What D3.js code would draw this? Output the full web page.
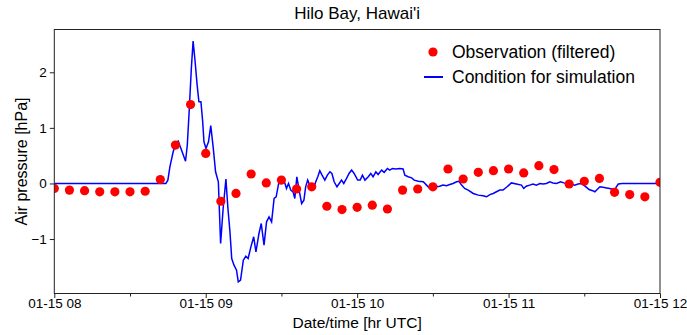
<!DOCTYPE html>
<html>
<head>
<meta charset="utf-8">
<script src="https://cdn.jsdelivr.net/npm/d3@7"></script>
<style>
  body { margin: 0; background: #fff; }
  text { font-family: "Liberation Sans", Arial, sans-serif; fill: #000; }
  .axis path, .axis line { stroke: #222; }
</style>
</head>
<body>
<script>
var margin = {top: 29.5, right: 27, bottom: 41.5, left: 54.3};
var width = 687 - margin.left - margin.right;
var height = 335 - margin.top - margin.bottom;

// observations every 6 minutes from 08:00 UTC
var obsStep = 6;
var obsValues = [-0.09, -0.12, -0.13, -0.15, -0.15, -0.15, -0.14, 0.07, 0.69, 1.42,
  0.54, -0.32, -0.18, 0.17, 0.01, 0.06, -0.10, -0.06, -0.41, -0.47,
  -0.43, -0.39, -0.46, -0.12, -0.10, -0.06, 0.26, 0.08, 0.20, 0.23,
  0.26, 0.19, 0.32, 0.25, -0.01, 0.04, 0.09, -0.16, -0.20, -0.24, 0.02];

// simulation condition: minutes after 08:00 UTC and pressure [hPa]
var simMinutes = [0, 44.2, 45, 45.8, 47.1, 48.2, 49.1, 50.4, 52, 52.7,
  53.5, 54.3, 55, 55.8, 56.6, 57.3, 58.1, 58.8, 59.3, 60.1,
  61.1, 62, 63, 63.9, 65, 65.9, 66.9, 68, 68.8, 69.6,
  70.3, 71.2, 72.2, 72.9, 73.8, 74.9, 75.9, 76.8, 77.9, 79,
  79.9, 81.1, 82, 83.1, 84.1, 85.1, 86.1, 87.1, 87.9, 88.9,
  89.7, 90.6, 91.4, 92, 92.8, 93.7, 94.6, 95.3, 96.1, 97,
  98, 98.9, 99.6, 100.4, 101.2, 102, 102.7, 103.6, 104.4, 105.2,
  106.1, 107.2, 108.2, 109.2, 110, 110.9, 112, 112.9, 113.8, 114.7,
  115.8, 116.8, 117.8, 118.8, 120.2, 121.2, 122.1, 123.1, 124.4, 125.4,
  126.3, 127.4, 128.3, 129.7, 130.7, 132, 132.9, 134, 135.2, 136.9,
  138.2, 138.9, 140.2, 141.6, 142.6, 144.2, 146.2, 147.5, 148.8, 150.1,
  151.4, 152.7, 154, 155.4, 156.7, 158, 159.4, 160.3, 161.4, 162.6,
  164, 166, 168, 169.9, 171.3, 172.6, 173.9, 175.2, 176.5, 177.8,
  179.4, 181.1, 183.1, 185.1, 186, 187, 188.4, 189.7, 191, 192.4,
  193.7, 195, 196.3, 197.6, 199, 200.6, 201.9, 203.6, 204.9, 206.2,
  207.5, 208.9, 209.8, 210.9, 211.9, 213.3, 214.2, 215.1, 216.2, 217.5,
  218.8, 220.1, 221.4, 222.2, 222.7, 223.5, 225, 240];
var simValues = [0, 0, 0.06, 0.3, 0.57, 0.72, 0.76, 0.6, 0.40, 0.69,
  1.35, 2.07, 2.56, 2.19, 1.77, 1.47, 1.47, 1.11, 0.75, 0.63,
  0.75, 1.04, 0.63, 0.21, 0.03, -1.08, -0.45, 0.08, -0.45, -0.87,
  -1.35, -1.47, -1.56, -1.77, -1.74, -1.38, -1.31, -1.35, -1.14, -0.96,
  -1.23, -0.9, -0.72, -1.11, -0.69, -0.6, -0.69, -0.27, -0.24, 0,
  0, 0.09, 0, -0.09, 0, -0.12, -0.15, -0.27, 0.12, -0.12,
  -0.36, -0.3, -0.06, 0.06, -0.03, -0.03, -0.09, 0.03, 0.12, 0.23,
  0.15, 0.06, 0.15, 0.21, 0.18, 0.03, -0.06, 0, 0.06, 0,
  0.09, 0.18, 0.24, 0.18, 0.06, 0.06, 0.15, 0.06, 0.12, 0.18,
  0.12, 0.21, 0.16, 0.24, 0.2, 0.27, 0.24, 0.27, 0.26, 0.27,
  0.26, 0.15, 0.12, 0.1, 0.06, 0.04, 0.03, -0.03, -0.09, -0.09,
  -0.06, -0.05, -0.03, -0.04, -0.02, 0, 0.03, 0.04, -0.03, -0.09,
  -0.12, -0.18, -0.21, -0.22, -0.24, -0.2, -0.18, -0.15, -0.12, -0.12,
  -0.06, 0.01, -0.01, -0.03, -0.09, -0.05, -0.03, -0.01, -0.03, 0,
  -0.01, 0, 0.03, 0.01, 0, 0.03, 0.01, -0.01, -0.01, -0.03,
  -0.01, 0, -0.03, -0.07, -0.11, -0.13, -0.15, -0.11, -0.06, -0.07,
  -0.08, -0.09, -0.11, -0.12, -0.06, -0.01, 0, 0];

var yTicks = [-1, 0, 1, 2];
var yDomain = [-1.98, 2.77];
var start = new Date(Date.UTC(2022, 0, 15, 8, 0));
var end = new Date(Date.UTC(2022, 0, 15, 12, 0));

function minutesToDate(m) { return new Date(start.getTime() + m * 60000); }

var x = d3.scaleUtc().domain([start, end]).range([0, width]);
var y = d3.scaleLinear().domain(yDomain).range([height, 0]);

var svg = d3.select("body").append("svg")
  .attr("width", 687)
  .attr("height", 335)
  .append("g")
  .attr("transform", "translate(" + margin.left + "," + margin.top + ")");

svg.append("defs").append("clipPath").attr("id", "clip")
  .append("rect").attr("width", width).attr("height", height);

var plot = svg.append("g").attr("clip-path", "url(#clip)");

var simData = simMinutes.map(function(m, i) { return {t: minutesToDate(m), v: simValues[i]}; });
var obsData = obsValues.map(function(v, i) { return {t: minutesToDate(i * obsStep), v: v}; });

var line = d3.line()
  .x(function(d) { return x(d.t); })
  .y(function(d) { return y(d.v); });

plot.append("path")
  .datum(simData)
  .attr("d", line)
  .attr("fill", "none")
  .attr("stroke", "#0000ff")
  .attr("stroke-width", 1.5);

plot.selectAll("circle")
  .data(obsData)
  .enter()
  .append("circle")
  .attr("cx", function(d) { return x(d.t); })
  .attr("cy", function(d) { return y(d.v); })
  .attr("r", 4.6)
  .attr("fill", "#ff0000");

// frame
svg.append("rect")
  .attr("width", width).attr("height", height)
  .attr("fill", "none").attr("stroke", "#222").attr("stroke-width", 1);

// axes
var xAxis = svg.append("g").attr("class", "axis")
  .attr("transform", "translate(0," + height + ")")
  .call(d3.axisBottom(x).ticks(d3.utcHour.every(1)).tickFormat(d3.utcFormat("%m-%d %H")).tickSizeOuter(0).tickSize(4.5));
xAxis.select(".domain").remove();
xAxis.selectAll("text").style("font-size", "13.5px").attr("y", 4.5).attr("dy", "0.71em");

var xMinor = svg.append("g").attr("class", "axis")
  .attr("transform", "translate(0," + height + ")")
  .call(d3.axisBottom(x).tickValues(d3.utcMinute.every(30).range(start, end).filter(function(d) { return d.getUTCMinutes() == 30; }))
    .tickFormat("").tickSize(3).tickSizeOuter(0));
xMinor.select(".domain").remove();

var yAxis = svg.append("g").attr("class", "axis")
  .call(d3.axisLeft(y).tickValues(yTicks).tickFormat(d3.format("d")).tickSize(4.5).tickSizeOuter(0));
yAxis.select(".domain").remove();
yAxis.selectAll("text").style("font-size", "13.5px");

// labels
svg.append("text")
  .attr("x", width / 2).attr("y", -11)
  .attr("text-anchor", "middle")
  .style("font-size", "17px")
  .text("Hilo Bay, Hawai'i");

svg.append("text")
  .attr("x", width / 2).attr("y", height + 34)
  .attr("text-anchor", "middle")
  .style("font-size", "15.5px")
  .text("Date/time [hr UTC]");

svg.append("text")
  .attr("transform", "translate(" + (-27) + "," + (height / 2) + ") rotate(-90)")
  .attr("text-anchor", "middle")
  .style("font-size", "16px")
  .text("Air pressure [hPa]");

// legend
var legend = svg.append("g").attr("transform", "translate(" + (433 - margin.left) + "," + (52 - margin.top) + ")");
legend.append("circle").attr("r", 4.6).attr("fill", "#ff0000");
legend.append("text").attr("x", 19).attr("y", 6).style("font-size", "17.5px").text("Observation (filtered)");
legend.append("line").attr("x1", -9).attr("x2", 10).attr("y1", 25).attr("y2", 25)
  .attr("stroke", "#0000ff").attr("stroke-width", 2);
legend.append("text").attr("x", 19).attr("y", 31).style("font-size", "17.5px").text("Condition for simulation");
</script>
</body>
</html>
